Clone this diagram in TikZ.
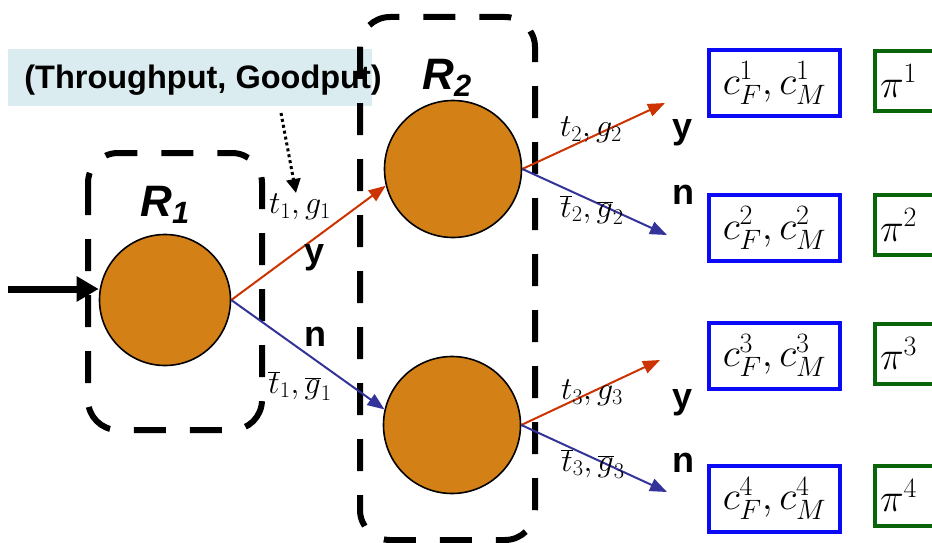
\documentclass[tikz,border=0pt]{standalone}
\usepackage{fix-cm}
\usepackage{fontspec}
\setsansfont{Liberation Sans}
\usetikzlibrary{arrows.meta}
\definecolor{NodeOrange}{RGB}{211,128,22}
\definecolor{YesRed}{RGB}{204,51,0}
\definecolor{NoBlue}{RGB}{51,51,153}
\definecolor{CostBlue}{RGB}{10,10,245}
\definecolor{PayGreen}{RGB}{10,100,10}
\definecolor{NoteCyan}{RGB}{219,236,240}

\begin{document}
\begin{tikzpicture}[x=1pt,y=-1pt,
    decision/.style={circle,draw=black,line width=1.6pt,fill=NodeOrange,minimum size=137pt,inner sep=0pt},
    regionbox/.style={draw=black,line width=6pt,dash pattern=on 32pt off 24pt,rounded corners=30pt},
    regionlbl/.style={font=\sffamily\bfseries\itshape\fontsize{44}{50}\selectfont},
    yesedge/.style={-{Triangle[length=17pt,width=13pt]},YesRed,line width=2pt},
    noedge/.style={-{Triangle[length=17pt,width=13pt]},NoBlue,line width=2pt},
    edgelbl/.style={font=\fontsize{32}{38}\selectfont,inner sep=0pt},
    answer/.style={font=\sffamily\bfseries\fontsize{36}{40}\selectfont,inner sep=0pt},
    costbox/.style={draw=CostBlue,line width=4pt,minimum width=131pt,minimum height=66pt,inner sep=2pt,font=\fontsize{40}{48}\selectfont},
    paybox/.style={draw=PayGreen,line width=4pt,anchor=west,minimum height=60pt,text width=80pt,align=left,inner xsep=5pt,inner ysep=2pt,font=\fontsize{40}{48}\selectfont}]
  \useasboundingbox (0,0) rectangle (932,543);
  \clip (0,0) rectangle (932,543);

  % note and its pointer
  \fill[NoteCyan] (8,49) rectangle (372,106);
  \node[font=\sffamily\bfseries\fontsize{32.5}{38}\selectfont] (note) at (203,80) {(Throughput, Goodput)};
  \coordinate (pa) at (281,113);
  \coordinate (pb) at (296,193);
  \draw[-{Triangle[length=14pt,width=14pt]},line width=3pt,dash pattern=on 3pt off 3pt] (pa) -- (pb);

  % regions
  \draw[regionbox] (88,153) rectangle (262,430);
  \draw[regionbox] (360,17) rectangle (535,540);
  \node[regionlbl] (r1) at (165,205) {R\textsubscript{1}};
  \node[regionlbl] (r2) at (447,78) {R\textsubscript{2}};

  % decision nodes
  \node[decision,minimum size=131pt] (d1) at (165,300) {};
  \node[decision] (d2) at (453,169) {};
  \node[decision] (d3) at (452,425) {};

  % input
  \coordinate (in) at (8,289);
  \draw[-{Triangle[length=22pt,width=24pt]},line width=7pt] (in) -- (in -| d1.west);

  % first split
  \draw[yesedge] (d1.east) -- (d2.194);
  \draw[noedge] (d1.east) -- (d3.167);
  \node[edgelbl] (l1) at (300,207) {$t_1,g_1$};
  \node[edgelbl] (m1) at (300,386) {$\overline{t}_1,\overline{g}_1$};
  \node[answer] (y1) at (315,258) {y};
  \node[answer] (n1) at (315,337) {n};

  % second splits
  \coordinate (y2) at (665,103);
  \coordinate (n2) at (667,235);
  \coordinate (y3) at (660,360);
  \coordinate (n3) at (667,492);
  \draw[yesedge] (d2.east) -- (y2);
  \draw[noedge] (d2.east) -- (n2);
  \draw[yesedge] (d3.east) -- (y3);
  \draw[noedge] (d3.east) -- (n3);
  \node[edgelbl] (l2) at (591,130) {$t_2,g_2$};
  \node[edgelbl] (m2) at (592,210) {$\overline{t}_2,\overline{g}_2$};
  \node[edgelbl] (l3) at (592,393) {$t_3,g_3$};
  \node[edgelbl] (m3) at (593,464) {$\overline{t}_3,\overline{g}_3$};
  \node[answer] (ya) at (683,133) {y};
  \node[answer] (na) at (683,195) {n};
  \node[answer] (yb) at (683,403) {y};
  \node[answer] (nb) at (683,463) {n};

  % outcomes
  \node[costbox] (c1) at (774.5,83) {$c_F^1,c_M^1$};
  \node[costbox] (c2) at (774.5,228) {$c_F^2,c_M^2$};
  \node[costbox] (c3) at (774.5,355.5) {$c_F^3,c_M^3$};
  \node[costbox] (c4) at (774.5,498.5) {$c_F^4,c_M^4$};
  \node[paybox] (p1) at (873,81) {$\pi^1$};
  \node[paybox] (p2) at (873,225) {$\pi^2$};
  \node[paybox] (p3) at (873,353.5) {$\pi^3$};
  \node[paybox] (p4) at (873,495.5) {$\pi^4$};
\end{tikzpicture}
\end{document}
